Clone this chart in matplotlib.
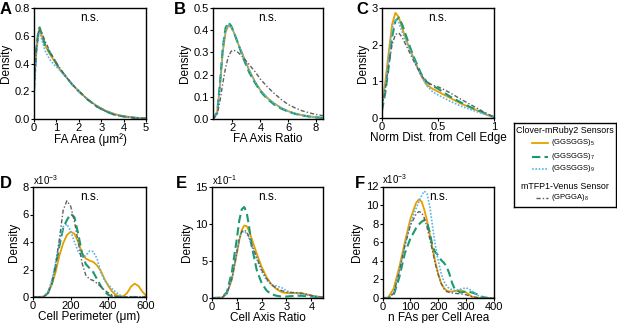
import numpy as np
import matplotlib
matplotlib.use('Agg')
import matplotlib.pyplot as plt

plt.rcParams['font.family'] = ['Liberation Sans', 'DejaVu Sans']
plt.rcParams['mathtext.fontset'] = 'custom'
plt.rcParams['mathtext.rm'] = 'Liberation Sans'
plt.rcParams['mathtext.it'] = 'Liberation Sans:italic'
plt.rcParams['mathtext.bf'] = 'Liberation Sans:bold'

## Series labels
labels = ['(GGSGGS)$_5$', '(GGSGGS)$_7$', '(GGSGGS)$_9$', '(GPGGA)$_8$']

## A: FA area
a_x = [0, 0.1, 0.2, 0.25, 0.35, 0.5, 0.7, 0.9, 1.1, 1.4, 1.7, 2.0, 2.4, 2.8, 3.2, 3.6, 4.0, 4.5, 5.0]
a_g5 = [0.22, 0.5, 0.63, 0.65, 0.6, 0.53, 0.47, 0.42, 0.37, 0.31, 0.25, 0.2, 0.14, 0.095, 0.06, 0.035, 0.02, 0.01, 0.005]
a_g7 = [0.2, 0.5, 0.64, 0.66, 0.61, 0.53, 0.48, 0.43, 0.37, 0.31, 0.25, 0.2, 0.14, 0.09, 0.055, 0.03, 0.018, 0.008, 0.004]
a_g9 = [0.18, 0.45, 0.6, 0.62, 0.57, 0.49, 0.43, 0.39, 0.36, 0.31, 0.25, 0.2, 0.14, 0.095, 0.06, 0.035, 0.02, 0.01, 0.005]
a_gp = [0.2, 0.48, 0.62, 0.64, 0.62, 0.56, 0.49, 0.43, 0.38, 0.31, 0.25, 0.2, 0.14, 0.09, 0.055, 0.03, 0.018, 0.008, 0.004]

## B: FA axis ratio
b_x = [0.6, 0.9, 1.1, 1.3, 1.5, 1.7, 1.9, 2.1, 2.4, 2.8, 3.2, 3.6, 4.0, 4.5, 5.0, 5.5, 6.0, 6.5, 7.0, 7.5, 8.0, 8.5]
b_g5 = [0.0, 0.03, 0.15, 0.3, 0.39, 0.42, 0.415, 0.39, 0.34, 0.28, 0.22, 0.17, 0.13, 0.095, 0.07, 0.05, 0.035, 0.025, 0.017, 0.012, 0.008, 0.005]
b_g7 = [0.0, 0.03, 0.16, 0.32, 0.41, 0.435, 0.42, 0.39, 0.34, 0.27, 0.21, 0.165, 0.125, 0.09, 0.065, 0.047, 0.033, 0.023, 0.016, 0.011, 0.007, 0.005]
b_g9 = [0.0, 0.03, 0.15, 0.31, 0.40, 0.425, 0.415, 0.39, 0.34, 0.28, 0.22, 0.17, 0.13, 0.095, 0.07, 0.05, 0.035, 0.025, 0.017, 0.012, 0.008, 0.005]
b_gp = [0.0, 0.02, 0.08, 0.16, 0.23, 0.28, 0.305, 0.31, 0.3, 0.275, 0.245, 0.215, 0.18, 0.145, 0.115, 0.088, 0.065, 0.05, 0.037, 0.028, 0.02, 0.015]

## C: normalised distance from cell edge
c_x = [0, 0.03, 0.06, 0.09, 0.12, 0.15, 0.18, 0.22, 0.26, 0.3, 0.35, 0.4, 0.45, 0.5, 0.55, 0.6, 0.7, 0.8, 0.9, 0.95, 1.0]
c_g5 = [0.35, 1.0, 1.8, 2.55, 2.87, 2.75, 2.45, 2.1, 1.8, 1.5, 1.15, 0.9, 0.8, 0.72, 0.64, 0.56, 0.4, 0.27, 0.14, 0.07, 0.02]
c_g7 = [0.2, 0.7, 1.4, 2.2, 2.65, 2.74, 2.55, 2.2, 1.85, 1.55, 1.2, 0.98, 0.88, 0.8, 0.7, 0.6, 0.43, 0.28, 0.15, 0.08, 0.03]
c_g9 = [0.3, 0.9, 1.7, 2.4, 2.7, 2.6, 2.35, 2.05, 1.78, 1.5, 1.15, 0.88, 0.72, 0.63, 0.55, 0.47, 0.33, 0.22, 0.12, 0.06, 0.02]
c_gp = [0.3, 0.8, 1.45, 2.0, 2.28, 2.32, 2.2, 1.95, 1.7, 1.45, 1.17, 0.97, 0.9, 0.85, 0.78, 0.7, 0.52, 0.35, 0.18, 0.1, 0.03]

## D: cell perimeter (x1e-3)
d_x = [0, 40, 60, 80, 100, 120, 140, 160, 180, 200, 220, 240, 260, 280, 300, 320, 340, 360, 380, 400,
       420, 440, 460, 480, 500, 520, 540, 560, 580, 600]
d_g5 = [0, 0, 0.05, 0.3, 0.9, 1.8, 3.0, 3.9, 4.5, 4.75, 4.6, 4.0, 3.2, 2.8, 2.65, 2.55, 2.3, 1.9, 1.3, 0.8,
        0.4, 0.15, 0.05, 0.05, 0.3, 0.75, 0.97, 0.8, 0.4, 0.1]
d_g7 = [0, 0, 0.05, 0.3, 1.0, 2.2, 3.7, 5.0, 5.6, 6.05, 5.8, 4.6, 3.2, 2.4, 2.1, 1.8, 1.3, 0.8, 0.4, 0.15,
        0.05, 0, 0, 0, 0, 0, 0, 0, 0, 0]
d_g9 = [0, 0, 0.05, 0.4, 1.2, 2.5, 4.0, 5.1, 5.3, 4.8, 4.0, 3.3, 2.95, 3.0, 3.35, 3.3, 2.8, 1.8, 1.2, 0.9,
        0.6, 0.35, 0.15, 0.03, 0, 0, 0, 0, 0, 0]
d_gp = [0, 0, 0.05, 0.3, 1.0, 2.3, 4.2, 6.3, 7.0, 6.6, 5.5, 4.0, 2.5, 1.6, 1.3, 1.2, 1.0, 0.75, 0.5, 0.3,
        0.15, 0.05, 0, 0, 0, 0, 0, 0, 0, 0]

## E: cell axis ratio (x1e-1)
e_x = [0, 0.4, 0.6, 0.8, 1.0, 1.1, 1.2, 1.3, 1.4, 1.5, 1.6, 1.8, 2.0, 2.2, 2.4, 2.6, 2.8, 3.0, 3.2, 3.4, 3.6, 3.8, 4.0, 4.2, 4.5]
e_g5 = [0, 0.05, 0.6, 2.5, 6.0, 7.8, 9.2, 9.8, 9.7, 9.0, 8.0, 6.0, 4.2, 2.8, 1.8, 1.2, 0.8, 0.65, 0.65, 0.7, 0.65, 0.5, 0.35, 0.2, 0.1]
e_g7 = [0, 0.05, 0.8, 3.5, 8.0, 10.5, 12.0, 12.3, 11.5, 9.5, 7.0, 3.8, 2.0, 1.0, 0.5, 0.3, 0.2, 0.2, 0.25, 0.3, 0.3, 0.25, 0.2, 0.15, 0.1]
e_g9 = [0, 0.05, 0.6, 2.6, 6.3, 8.0, 8.9, 9.0, 8.7, 8.0, 7.0, 5.3, 3.6, 2.4, 1.8, 1.6, 1.4, 1.0, 0.7, 0.6, 0.5, 0.4, 0.3, 0.2, 0.1]
e_gp = [0, 0.05, 0.6, 2.6, 6.2, 8.0, 9.0, 9.2, 8.9, 8.2, 7.2, 5.5, 3.8, 2.6, 1.8, 1.3, 1.0, 0.8, 0.75, 0.7, 0.65, 0.5, 0.35, 0.2, 0.1]

## F: n FAs per cell area (x1e-3)
f_x = [0, 20, 40, 60, 80, 100, 120, 130, 140, 150, 160, 170, 180, 190, 200, 210, 220, 230, 240, 250, 260, 280, 300, 320, 340, 360, 380, 400]
f_g5 = [0, 0.05, 1.0, 3.3, 6.0, 8.5, 10.2, 10.6, 10.4, 9.5, 8.3, 6.8, 5.3, 3.8, 2.6, 1.6, 1.1, 0.8, 0.7, 0.7, 0.75, 0.85, 0.6, 0.15, 0.02, 0, 0, 0]
f_g7 = [0, 0, 0.3, 2.2, 4.8, 6.4, 7.5, 7.9, 8.2, 8.4, 8.1, 7.0, 5.5, 4.9, 4.6, 4.1, 3.8, 3.4, 2.6, 1.6, 0.9, 0.6, 0.7, 0.6, 0.4, 0.1, 0, 0]
f_g9 = [0, 0, 0.5, 2.8, 5.6, 8.0, 9.6, 10.3, 11.0, 11.5, 11.2, 9.8, 7.6, 5.6, 4.0, 2.7, 1.8, 1.3, 1.0, 0.9, 0.8, 0.95, 1.1, 0.8, 0.3, 0.05, 0, 0]
f_gp = [0, 0, 0.5, 2.8, 5.6, 7.8, 9.0, 9.3, 9.2, 8.6, 7.6, 6.3, 5.0, 3.6, 2.5, 1.6, 1.0, 0.7, 0.6, 0.55, 0.5, 0.45, 0.35, 0.15, 0.05, 0, 0, 0]

colors = ['#E69F00', '#1A9A6E', '#56B4E9', '#606060']
styles = ['-', (0, (4, 2)), (0, (1, 1)), (0, (3, 1.5, 1, 1.5))]
widths = [1.3, 1.5, 1.2, 1.0]

W, H = 617., 323.
fig = plt.figure(figsize=(W/100, H/100), dpi=100)

def px_axes(l, t, r, b):
    return fig.add_axes([l/W, 1 - b/H, (r - l)/W, (b - t)/H])

panels = [
    # letter, rect px, x, series, xlim, ylim, xticks, yticks, yfmt, xlabel, scale text, letter pos
    ('A', (34, 8, 146, 119), a_x, [a_g5, a_g7, a_g9, a_gp], (0, 5), (0, 0.8),
     [0, 1, 2, 3, 4, 5], [0, 0.2, 0.4, 0.6, 0.8], '%.1f', 'FA Area (\u03bcm\u00b2)', None, (0, 10)),
    ('B', (213, 8, 323, 119), b_x, [b_g5, b_g7, b_g9, b_gp], (0.6, 8.5), (0, 0.5),
     [2, 4, 6, 8], [0, 0.1, 0.2, 0.3, 0.4, 0.5], '%.1f', 'FA Axis Ratio', None, (174, 10)),
    ('C', (382, 8, 494, 118), c_x, [c_g5, c_g7, c_g9, c_gp], (0, 1), (0, 3),
     [0, 0.5, 1], [0, 1, 2, 3], '%g', 'Norm Dist. from Cell Edge', None, (356, 10)),
    ('D', (33, 187, 146, 297), d_x, [d_g5, d_g7, d_g9, d_gp], (0, 600), (0, 8),
     [0, 200, 400, 600], [0, 2, 4, 6, 8], '%g', 'Cell Perimeter (\u03bcm)', 'x10$^{-3}$', (0, 184)),
    ('E', (212, 187, 323, 298), e_x, [e_g5, e_g7, e_g9, e_gp], (0, 4.47), (0, 15),
     [0, 1, 2, 3, 4], [0, 5, 10, 15], '%g', 'Cell Axis Ratio', 'x10$^{-1}$', (176, 184)),
    ('F', (382.5, 186.5, 494, 298), f_x, [f_g5, f_g7, f_g9, f_gp], (0, 400), (0, 12),
     [0, 100, 200, 300, 400], [0, 2, 4, 6, 8, 10, 12], '%g', 'n FAs per Cell Area', 'x10$^{-3}$', (355, 184)),
]

for (letter, rect, x, series, xlim, ylim, xt, yt, yfmt, xlab, scale, lpos) in panels:
    ax = px_axes(*rect)
    for y, c, ls, lw in zip(series, colors, styles, widths):
        ax.plot(x, y, color=c, linestyle=ls, linewidth=lw)
    ax.set_xlim(xlim)
    ax.set_ylim(ylim)
    ax.set_xticks(xt)
    ax.set_xticklabels(['%g' % v for v in xt])
    ax.set_yticks(yt)
    ax.set_yticklabels([yfmt % v for v in yt])
    ax.tick_params(direction='out', length=2, width=0.8, labelsize=8, pad=1)
    for sp in ax.spines.values():
        sp.set_linewidth(1.0)
    ax.set_xlabel(xlab, fontsize=8.5, labelpad=0)
    ax.set_ylabel('Density', fontsize=8.5, labelpad=2)
    ax.text(0.5, 0.91, 'n.s.', transform=ax.transAxes, ha='center', va='center', fontsize=8.5)
    if scale is not None:
        ax.text(0.0, 1.0, scale, transform=ax.transAxes, ha='left', va='bottom', fontsize=7)
    fig.text(lpos[0]/W, 1 - lpos[1]/H, letter, fontsize=12, fontweight='bold', ha='left', va='center')

## Legend box
lax = px_axes(514, 123, 616, 207)
lax.set_xlim(0, 102)
lax.set_ylim(84, 0)
lax.set_xticks([])
lax.set_yticks([])
for sp in lax.spines.values():
    sp.set_linewidth(1.0)
lax.text(51, 7.5, 'Clover-mRuby2 Sensors', ha='center', va='center', fontsize=6.4)
lax.text(51, 63.5, 'mTFP1-Venus Sensor', ha='center', va='center', fontsize=6.4)
rows = [20, 33.5, 45.5, 74.5]
for i in range(4):
    x0 = 18 if i < 3 else 22
    lax.plot([x0, 34], [rows[i], rows[i]], color=colors[i], linestyle=styles[i], linewidth=widths[i])
    lax.text(37, rows[i], labels[i], ha='left', va='center', fontsize=5.5)

plt.savefig('out.png', dpi=100)
